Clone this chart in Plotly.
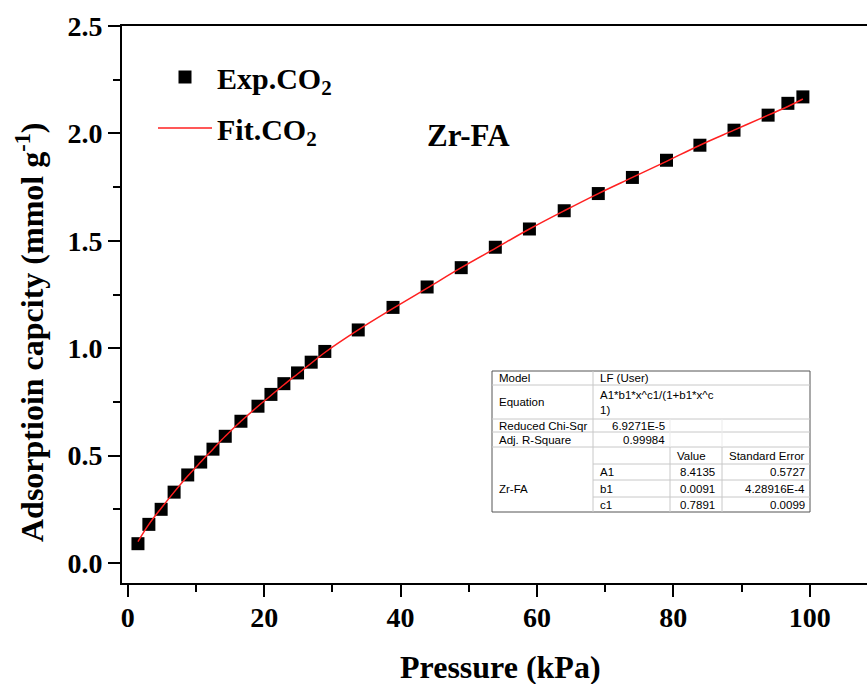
import plotly.graph_objects as go

# ---- data ----
pressure_kpa = [1.5, 3.1, 4.9, 6.8, 8.8, 10.7, 12.5, 14.3, 16.6, 19.1, 21.0, 22.9, 24.9, 26.9, 28.9,
                33.8, 38.9, 43.9, 48.9, 53.9, 58.9, 64.0, 69.0, 74.0, 79.0, 83.9, 88.9, 93.9, 96.8, 99.0]
exp_co2 = [0.09, 0.18, 0.25, 0.33, 0.41, 0.47, 0.53, 0.59, 0.66, 0.73, 0.785, 0.835, 0.885, 0.935, 0.985,
           1.085, 1.19, 1.285, 1.375, 1.47, 1.555, 1.64, 1.72, 1.795, 1.875, 1.945, 2.015, 2.085, 2.14, 2.17]
fit_co2 = [0.10, 0.18, 0.255, 0.33, 0.405, 0.47, 0.53, 0.59, 0.66, 0.73, 0.78, 0.83, 0.88, 0.93, 0.98,
           1.085, 1.185, 1.28, 1.375, 1.465, 1.555, 1.64, 1.72, 1.795, 1.87, 1.945, 2.015, 2.085, 2.125, 2.16]

x_tickvals = [0, 20, 40, 60, 80, 100]
y_tickvals = [0.0, 0.5, 1.0, 1.5, 2.0, 2.5]
y_ticktext = ["0.0", "0.5", "1.0", "1.5", "2.0", "2.5"]

table_rows = [
    ("Model", "LF (User)", "", ""),
    ("Equation", "A1*b1*x^c1/(1+b1*x^c", "", ""),
    ("Reduced Chi-Sqr", "6.9271E-5", "", ""),
    ("Adj. R-Square", "0.99984", "", ""),
    ("", "", "Value", "Standard Error"),
    ("", "A1", "8.4135", "0.5727"),
    ("Zr-FA", "b1", "0.0091", "4.28916E-4"),
    ("", "c1", "0.7891", "0.0099"),
]
equation_tail = "1)"

# ---- layout geometry (pixels) ----
W, H = 867, 684
L, R, T, B = 122, 0, 26, 101
PW, PH = W - L - R, H - T - B

def px(x):
    return (x - L) / PW

def py(y):
    return (H - B - y) / PH

SERIF = "Liberation Serif"
SANS = "Liberation Sans"

fig = go.Figure()
fig.add_trace(go.Scatter(
    x=pressure_kpa, y=exp_co2, mode="markers", name="Exp.CO<sub>2</sub>", legendgroup="exp",
    marker=dict(symbol="square", size=13, color="black"),
))
fig.add_trace(go.Scatter(
    x=pressure_kpa, y=fit_co2, mode="lines", name="Fit.CO<sub>2</sub>", legendgroup="fit",
    line=dict(color="#ff2020", width=1.5), line_shape="spline",
))

axis_common = dict(
    showgrid=False, zeroline=False, showline=True, linecolor="black", linewidth=2,
    ticks="outside", ticklen=12, tickwidth=2, tickcolor="black",
    tickfont=dict(family=SERIF, size=28, color="black", weight="bold"),
)
fig.update_xaxes(range=[-0.84, 108.4], tickvals=x_tickvals, mirror=True, ticklabelstandoff=-4,
                 minor=dict(dtick=10, tick0=0, ticks="outside", ticklen=7, tickwidth=2, tickcolor="black"),
                 **axis_common)
fig.update_yaxes(range=[-0.093, 2.5], tickvals=y_tickvals, ticktext=y_ticktext,
                 minor=dict(dtick=0.25, tick0=0, ticks="outside", ticklen=7, tickwidth=2, tickcolor="black"),
                 **axis_common)

def note(text, x, y, xanchor="center", font=None, **kw):
    return dict(text=text, x=px(x), y=py(y), xref="paper", yref="paper", xanchor=xanchor,
                yanchor="middle", showarrow=False, font=font, **kw)

title_font = dict(family=SERIF, size=32, color="black", weight="bold")
annotations = [
    note("Pressure (kPa)", 500, 667, font=title_font),
    note("Adsorptioin capcity (mmol g<sup>-1</sup>)", 30, 332, font=title_font, textangle=-90),
    note("Zr-FA", 468, 135, font=dict(family=SERIF, size=31, color="black", weight="bold")),
]

# ---- fit-result table ----
row_edges = [371, 385, 419, 432, 447, 464, 480, 497, 512]
col_edges = [492, 593, 670, 722, 810]
shapes = [dict(type="rect", xref="paper", yref="paper", x0=px(col_edges[0]), x1=px(col_edges[-1]),
               y0=py(row_edges[-1]), y1=py(row_edges[0]), line=dict(color="#555555", width=1),
               fillcolor="white", layer="above")]
grid = "#c8c8c8"
for i, ye in enumerate(row_edges[1:-1], start=1):
    x_start = col_edges[1] if i >= 5 else col_edges[0]
    shapes.append(dict(type="line", xref="paper", yref="paper", x0=px(x_start), x1=px(col_edges[-1]),
                       y0=py(ye), y1=py(ye), line=dict(color=grid, width=1), layer="above"))
shapes.append(dict(type="line", xref="paper", yref="paper", x0=px(col_edges[1]), x1=px(col_edges[1]),
                   y0=py(row_edges[-1]), y1=py(row_edges[0]), line=dict(color=grid, width=1), layer="above"))
for xe in col_edges[2:4]:
    shapes.append(dict(type="line", xref="paper", yref="paper", x0=px(xe), x1=px(xe),
                       y0=py(row_edges[-1]), y1=py(row_edges[4]), line=dict(color=grid, width=1), layer="above"))
    shapes.append(dict(type="line", xref="paper", yref="paper", x0=px(xe), x1=px(xe),
                       y0=py(row_edges[4]), y1=py(row_edges[2]), line=dict(color="#ebebeb", width=1), layer="above"))

tfont = dict(family=SANS, size=11.5, color="black")
for r, row in enumerate(table_rows):
    yc = (row_edges[r] + row_edges[r + 1]) / 2
    if row[0]:
        yl = 489 if row[0] == "Zr-FA" else yc
        annotations.append(note(row[0], 497, yl, xanchor="left", font=tfont))
    if row[1]:
        if r in (2, 3):
            annotations.append(note(row[1], 667, yc, xanchor="right", font=tfont))
        elif r == 1:
            annotations.append(note(row[1], 598, 395, xanchor="left", font=tfont))
            annotations.append(note(equation_tail, 598, 410, xanchor="left", font=tfont))
        else:
            annotations.append(note(row[1], 598, yc, xanchor="left", font=tfont))
    if row[2]:
        if r == 4:
            annotations.append(note(row[2], 675, yc, xanchor="left", font=tfont))
        else:
            annotations.append(note(row[2], 717, yc, xanchor="right", font=tfont))
    if row[3]:
        if r == 4:
            annotations.append(note(row[3], 727, yc, xanchor="left", font=tfont))
        else:
            annotations.append(note(row[3], 807, yc, xanchor="right", font=tfont))

fig.update_layout(
    width=W, height=H, margin=dict(l=L, r=R, t=T, b=B, autoexpand=False),
    paper_bgcolor="white", plot_bgcolor="white",
    font=dict(family=SERIF, color="black"),
    showlegend=True,
    legend=dict(x=px(153), y=py(51), xanchor="left", yanchor="top", bgcolor="rgba(0,0,0,0)",
                font=dict(family=SERIF, size=30, color="black", weight="bold"),
                itemwidth=54, tracegroupgap=9),
    annotations=annotations, shapes=shapes,
)

fig.write_html("out.html", config={"displayModeBar": False},
               post_script="document.body.style.margin='0px';")
